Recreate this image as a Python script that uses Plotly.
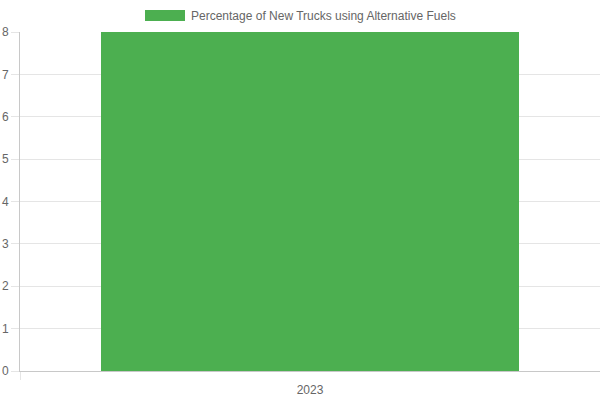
import plotly.graph_objects as go

# data
years = ["2023"]
pct_alt_fuel = [8]
series_name = "Percentage of New Trucks using Alternative Fuels"

L, T, B, R = 20, 32, 29, 0
ph = 400 - T - B
pw = 600 - L - R

fig = go.Figure()
fig.add_trace(go.Bar(x=years, y=pct_alt_fuel, name=series_name,
                     marker=dict(color="#4CAF50", line=dict(width=0)),
                     width=0.72, showlegend=False))

# legend drawn like chart.js: wide box + label
fig.add_shape(type="rect", xref="paper", yref="paper",
              x0=(145 - L) / pw, x1=(185 - L) / pw,
              y0=(371 - 21) / ph, y1=(371 - 10) / ph,
              fillcolor="#4CAF50", line=dict(width=0))
fig.add_annotation(text=series_name, xref="paper", yref="paper",
                   x=(189 - L) / pw, y=(371 - 15.5) / ph,
                   xanchor="left", yanchor="middle", showarrow=False,
                   font=dict(size=12, color="#666"))

fig.update_layout(
    width=600, height=400,
    margin=dict(l=L, r=R, t=T, b=B),
    plot_bgcolor="white", paper_bgcolor="white",
    font=dict(family="Liberation Sans, Arial", size=12, color="#666"),
    bargap=0,
)
fig.update_xaxes(type="category", tickson="boundaries", ticks="outside",
                 ticklen=8, tickcolor="#e5e5e5", showgrid=True,
                 gridcolor="#e5e5e5", showline=True, linecolor="#c8c8c8",
                 range=[-0.5, 0.5], automargin=False, ticklabelstandoff=8)
fig.update_yaxes(range=[0, 8], dtick=1, ticks="outside", ticklen=8,
                 tickcolor="#e5e5e5", gridcolor="#e5e5e5", showline=True,
                 linecolor="#c8c8c8", zeroline=False, automargin=False)

# drop the default 8px body margin so the figure sits flush in the window
fig.write_html("out.html", config={"displayModeBar": False},
               post_script="document.body.style.margin='0';")
